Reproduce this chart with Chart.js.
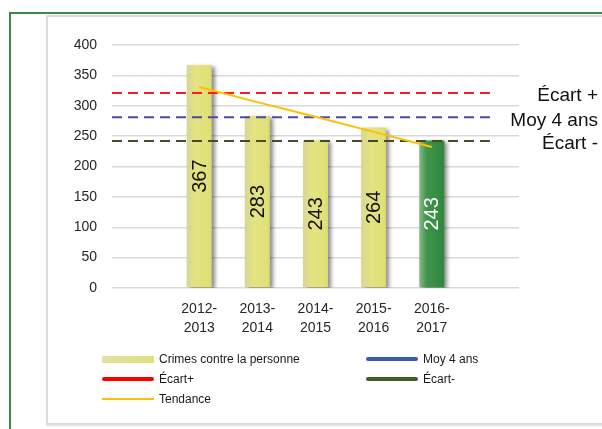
<!DOCTYPE html>
<html>
<head>
<meta charset="utf-8">
<script src="https://cdn.jsdelivr.net/npm/chart.js@4"></script>
<style>
  html, body { margin: 0; padding: 0; background: #fff; }
  body { width: 602px; height: 429px; position: relative; overflow: hidden; font-family: "Liberation Sans", Arial, sans-serif; }
  #frame { position: absolute; left: 9px; top: 12px; width: 620px; height: 440px; border-left: 2px solid #3b8a45; border-top: 2px solid #3b8a45; }
  #panel { position: absolute; left: 46px; top: 15px; width: 600px; height: 406px; border: 2px solid #dcdcdc; box-shadow: 1px 1px 2px rgba(0,0,0,0.12); }
  #chart { position: absolute; left: 0; top: 0; }
  .lg { position: absolute; font-size: 12px; color: #1a1a1a; line-height: 14px; }
  .sw { position: absolute; width: 52px; }
</style>
</head>
<body>
<div id="frame"></div>
<div id="panel"></div>
<canvas id="chart" width="602" height="429"></canvas>
<div id="legend"></div>
<script>
const categories = ['', '2012-2013', '2013-2014', '2014-2015', '2015-2016', '2016-2017', ''];
const crimes = [null, 367, 283, 243, 264, 243, null];
const trend = [331, 306, 282, 257, 232];
const refNames = ['Écart +', 'Moy 4 ans', 'Écart -'];
const refValues = [321, 281, 242];
const refColors = ['#ff1a1a', '#4a4aa3', '#4a4a24'];
const legendNames = ['Crimes contre la personne', 'Moy 4 ans', 'Écart+', 'Écart-', 'Tendance'];

// bar gradient, built per bar from the category scale
function barFill(ctx) {
  const chart = ctx.chart;
  const x = chart.scales.x;
  const last = ctx.dataIndex === 5;
  const plain = last ? '#2f8a3f' : '#e0e07c';
  if (!x || ctx.dataIndex === undefined) return plain;
  const cx = x.getPixelForValue(ctx.dataIndex);
  if (!isFinite(cx)) return plain;
  const g = chart.ctx.createLinearGradient(cx - 13, 0, cx + 13, 0);
  if (last) {
    g.addColorStop(0, '#8cbc90');
    g.addColorStop(0.3, '#3f9449');
    g.addColorStop(1, '#2e883e');
  } else {
    g.addColorStop(0, '#d6d698');
    g.addColorStop(0.35, '#e3e380');
    g.addColorStop(0.85, '#e1e17a');
    g.addColorStop(1, '#d8d874');
  }
  return g;
}

const datasets = [{
  type: 'bar',
  label: 'Crimes contre la personne',
  data: crimes,
  backgroundColor: barFill,
  grouped: false,
  categoryPercentage: 1,
  barPercentage: 0.43,
  order: 10
}];

refValues.forEach((v, i) => {
  datasets.push({
    type: 'line',
    label: refNames[i],
    xAxisID: 'x2',
    data: [{ x: 0, y: v }, { x: 6.5, y: v }],
    borderColor: refColors[i],
    borderWidth: 2,
    borderDash: [10, 6],
    pointRadius: 0,
    order: 5 - i
  });
});

datasets.push({
  type: 'line',
  label: 'Tendance',
  xAxisID: 'x2',
  data: trend.map((v, i) => ({ x: i + 1.5, y: v })),
  borderColor: '#ffc000',
  borderWidth: 2,
  pointRadius: 0,
  order: 1
});

const barExtras = {
  id: 'barExtras',
  beforeDatasetDraw(chart, args) {
    if (args.index !== 0) return;
    const c = chart.ctx;
    c.save();
    c.shadowColor = 'rgba(0,0,0,0.45)';
    c.shadowOffsetX = 3;
    c.shadowOffsetY = 2;
    c.shadowBlur = 4;
  },
  afterDatasetDraw(chart, args) {
    if (args.index !== 0) return;
    chart.ctx.restore();
  },
  afterDatasetsDraw(chart) {
    const c = chart.ctx;
    const meta = chart.getDatasetMeta(0);
    c.save();
    c.font = '20px "Liberation Sans", Arial, sans-serif';
    c.textAlign = 'center';
    c.textBaseline = 'middle';
    meta.data.forEach((bar, i) => {
      if (crimes[i] == null) return;
      const cy = (bar.y + bar.base) / 2;
      c.save();
      c.translate(bar.x, cy);
      c.rotate(-Math.PI / 2);
      c.fillStyle = i === 5 ? '#ffffff' : '#111111';
      c.fillText(String(crimes[i]), 0, 1);
      c.restore();
    });
    // level names at the right
    const y = chart.scales.y;
    c.font = '19px "Liberation Sans", Arial, sans-serif';
    c.textAlign = 'right';
    c.fillStyle = '#111';
    refValues.forEach((v, i) => {
      c.fillText(refNames[i], 598, y.getPixelForValue(v) + 3);
    });
    c.restore();
  }
};

new Chart(document.getElementById('chart'), {
  type: 'bar',
  data: { labels: categories, datasets: datasets },
  options: {
    responsive: false,
    animation: false,
    layout: { padding: { left: 52, right: 83, top: 45, bottom: 81 } },
    plugins: { legend: { display: false }, tooltip: { enabled: false } },
    scales: {
      x: {
        grid: { display: false, drawTicks: false },
        border: { display: false },
        ticks: {
          padding: 12,
          color: '#262626',
          font: { size: 14, family: '"Liberation Sans", Arial, sans-serif', lineHeight: 1.35 },
          callback: function (val) {
            const l = this.getLabelForValue(val);
            if (!l) return '';
            const p = l.split('-');
            return [p[0] + '-', p[1]];
          },
          maxRotation: 0,
          autoSkip: false
        },
        afterFit: (s) => { s.height = 60; }
      },
      x2: { type: 'linear', min: 0, max: 7, offset: false, display: false },
      y: {
        min: 0,
        max: 400,
        ticks: { stepSize: 50, padding: 15, color: '#262626', font: { size: 14, family: '"Liberation Sans", Arial, sans-serif' } },
        grid: { color: '#d9d9d9', lineWidth: 1.5, drawTicks: false },
        border: { display: false },
        afterFit: (s) => { s.width = 60; }
      }
    }
  },
  plugins: [barExtras]
});

// legend laid out in two columns like the original
const legendSpots = [[102, 359], [366, 359], [102, 379], [366, 379], [102, 399]];
const legendSwatch = [
  'height:7px;margin-top:-3px;background:linear-gradient(90deg,#e2e2a0,#e0e07a);',
  'height:4px;margin-top:-2px;border-radius:2px;background:#3a5ea6;',
  'height:4px;margin-top:-2px;border-radius:2px;background:#ff0000;',
  'height:4px;margin-top:-2px;border-radius:2px;background:#3e5e26;',
  'height:2px;margin-top:-1px;background:#ffc000;'
];
const lg = document.getElementById('legend');
legendNames.forEach((name, i) => {
  const [x, y] = legendSpots[i];
  const sw = document.createElement('div');
  sw.className = 'sw';
  sw.style.cssText = 'left:' + x + 'px;top:' + y + 'px;' + legendSwatch[i];
  lg.appendChild(sw);
  const t = document.createElement('div');
  t.className = 'lg';
  t.style.left = (x + 57) + 'px';
  t.style.top = (y - 7) + 'px';
  t.textContent = name;
  lg.appendChild(t);
});
</script>
</body>
</html>
